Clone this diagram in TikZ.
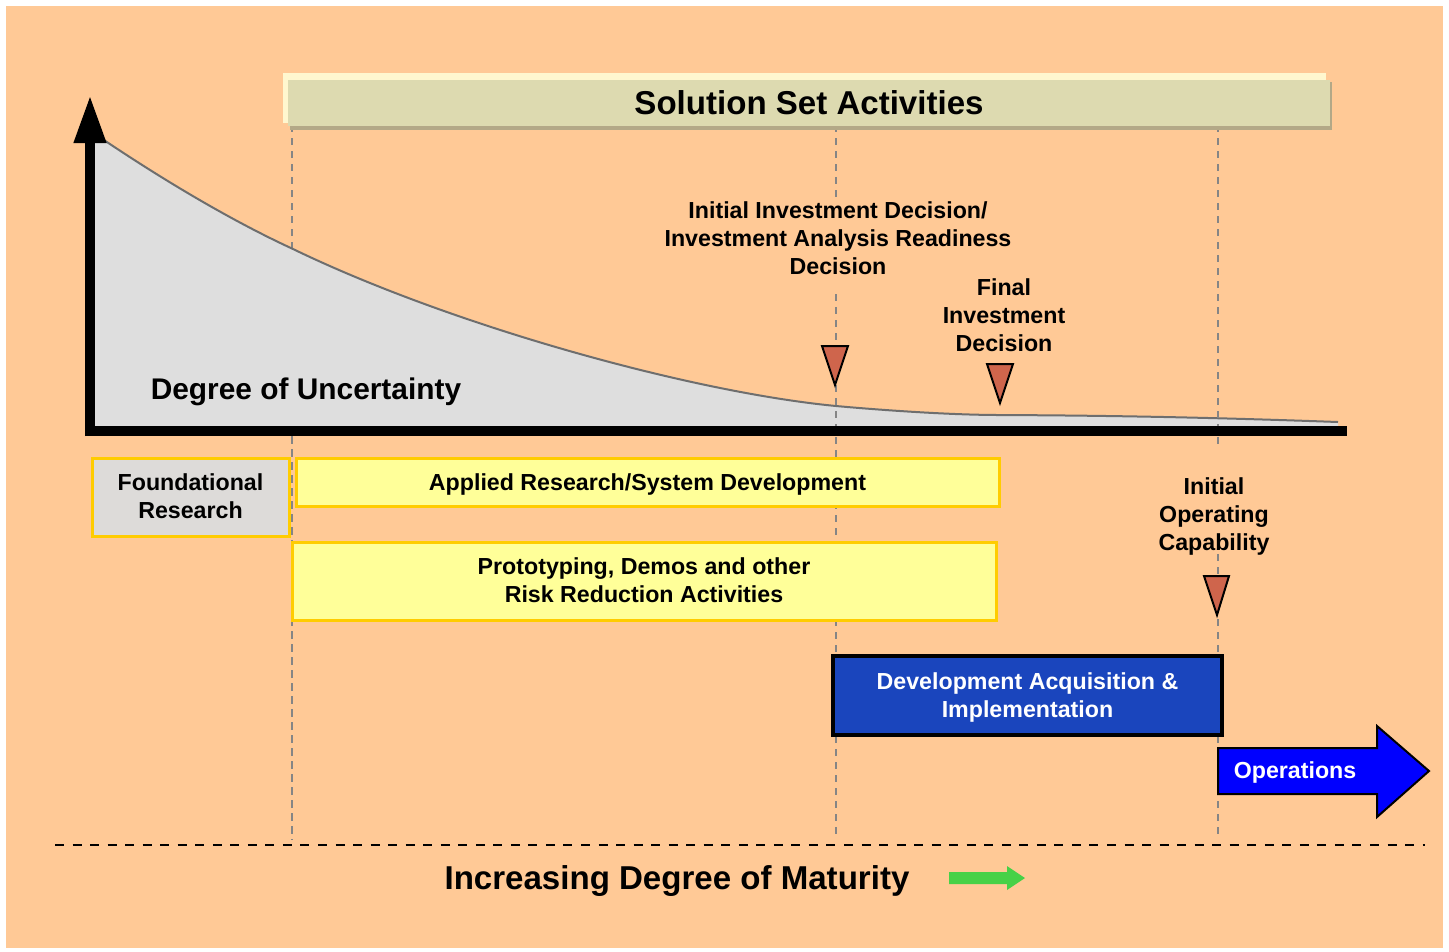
\documentclass[tikz,border=0pt]{standalone}
\usepackage{fontspec}
\setmainfont{Liberation Sans}
\usetikzlibrary{arrows.meta}
\definecolor{peach}{HTML}{FFC996}
\definecolor{solfill}{HTML}{DDDAB0}
\definecolor{solhi}{HTML}{FFF7CF}
\definecolor{solsh}{HTML}{B3A887}
\definecolor{curvefill}{HTML}{DEDEDE}
\definecolor{curveline}{HTML}{6E6E6E}
\definecolor{dashgray}{HTML}{858585}
\definecolor{trifill}{HTML}{CF654C}
\definecolor{yelfill}{HTML}{FFFF99}
\definecolor{goldline}{HTML}{FFCC00}
\definecolor{fndfill}{HTML}{DDDBD9}
\definecolor{devblue}{HTML}{1A45BD}
\definecolor{opsblue}{HTML}{0000FF}
\definecolor{greenarr}{HTML}{47D147}
\tikzset{
  lbl/.style={font=\bfseries\fontsize{17.4}{21}\selectfont, align=center, inner sep=0pt},
  yelbox/.style={lbl, draw=goldline, line width=2.25pt, fill=yelfill},
  vdash/.style={draw=dashgray, line width=1.5pt, dash pattern=on 5.25pt off 4.5pt},
  marker/.style={draw=black, line width=1.5pt, fill=trifill, line join=miter},
}
\begin{document}
\begin{tikzpicture}[x=0.75pt,y=-0.75pt]
\useasboundingbox (0,0) rectangle (1449,951);
\fill[white] (0,0) rectangle (1449,951);
\fill[peach] (6,6) rectangle (1443,948);

% vertical dashed line hidden under the curve area
\coordinate (v1t) at (292,125); \coordinate (v1b) at (292,840);
\draw[vdash] (v1t) -- (v1b);

% uncertainty curve
\def\curvepath{(98,136) .. controls (160,178) and (230,220) .. (293,249) .. controls (450,325) and (690,392) .. (836,406) .. controls (880,410) and (950,415) .. (1000,415) .. controls (1100,415.5) and (1200,417) .. (1338,422)}
\fill[curvefill] (95,428) -- (95,136) -- \curvepath -- (1338,428) -- cycle;
\draw[curveline, line width=1.5pt] \curvepath;

% other vertical dashed lines
\coordinate (v2t) at (836,125); \coordinate (v2b) at (836,840);
\coordinate (v3t) at (1218,125); \coordinate (v3b) at (1218,840);
\draw[vdash] (v2t) -- (v2b);
\draw[vdash] (v3t) -- (v3b);
\draw[vdash] (292,436) -- (v1b);
% text backgrounds hide the dashes
\fill[peach] (826,197) rectangle (846,294);
\fill[peach] (1208,446) rectangle (1228,553);

% axes
\coordinate (origin) at (90,436);
\coordinate (ytip) at (90,95);
\coordinate (xstart) at (85,431);
\coordinate (xend) at (1347,431);
\draw[line width=7.5pt] (xstart) -- (xend);
\draw[line width=7.5pt, -{Triangle[width=22.5pt,length=36pt]}] (origin) -- (ytip);

% solution set activities
\fill[solsh] (290,82) rectangle (1332,130);
\fill[solhi] (283,73) rectangle (1326,123);
\node[lbl, fill=solfill, minimum width=781.5pt, minimum height=34.5pt, font=\bfseries\fontsize{24.8}{28}\selectfont] (sol) at (809,102.5) {Solution Set Activities};

% labels
\node[lbl, font=\bfseries\fontsize{22.4}{26}\selectfont] (unc) at (306,392) {Degree of Uncertainty};
\node[lbl] (iid) at (838,238) {Initial Investment Decision/\\Investment Analysis Readiness\\Decision};
\node[lbl] (fid) at (1004,315) {Final\\Investment\\Decision};
\node[lbl] (ioc) at (1214,516) {Initial\\Operating\\Capability};

% markers
\draw[marker] (822,346) -- (848,346) -- (835,385) -- cycle;
\draw[marker] (987,364) -- (1013,364) -- (1000,403) -- cycle;
\draw[marker] (1204,576) -- (1229,576) -- (1217,615) -- cycle;

% activity boxes
\node[lbl, draw=goldline, line width=2.25pt, fill=fndfill, minimum width=147.75pt, minimum height=58.5pt,
  label={[lbl, yshift=0.75pt]center:{Foundational\\Research}}] (fnd) at (190.5,497) {};
\node[yelbox, minimum width=527.25pt, minimum height=36pt, text height=12.5pt, text depth=0pt] (app) at (647.5,482) {Applied Research/System Development};
\node[yelbox, minimum width=528pt, minimum height=58.5pt] (proto) at (644,581) {\raisebox{1pt}{Prototyping, Demos and other}\\\raisebox{1pt}{Risk Reduction Activities}};
\node[lbl, draw=black, line width=2.5pt, fill=devblue, minimum width=291.75pt, minimum height=59.25pt,
  label={[lbl, text=white, yshift=-1.5pt]center:{Development Acquisition \&\\Implementation}}] (dev) at (1027.5,695.5) {};

% operations arrow
\draw[line width=1.5pt, fill=opsblue, line join=miter] (1218,748) -- (1377,748) -- (1377,726) -- (1429,771) -- (1377,817) -- (1377,794) -- (1218,794) -- cycle;
\node[lbl, text=white] (ops) at (1295,772) {Operations};

% maturity
\coordinate (hl) at (55,845);
\coordinate (hr) at (1425,845);
\draw[line width=1.9pt, dash pattern=on 6.75pt off 6.4pt] (hl) -- (hr);
\node[lbl, font=\bfseries\fontsize{24.8}{28}\selectfont] (mat) at (677,881) {Increasing Degree of Maturity};
\fill[greenarr] (949,872) -- (1007,872) -- (1007,866) -- (1025,878) -- (1007,890) -- (1007,884) -- (949,884) -- cycle;
\end{tikzpicture}
\end{document}
